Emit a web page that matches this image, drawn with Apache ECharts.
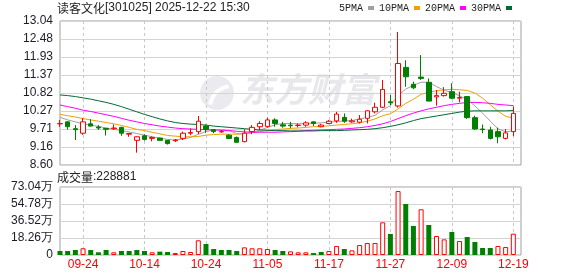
<!DOCTYPE html>
<html><head><meta charset="utf-8">
<script src="https://cdn.jsdelivr.net/npm/echarts@6/dist/echarts.min.js"></script>
<style>html,body{margin:0;padding:0;background:#fff}#c{width:578px;height:276px}</style>
</head><body><div id="c"></div>
<script>
const stockName = '读客文化';
const stockCode = '301025';
const stamp = '2025-12-22 15:30';
const dates = ['09-19','09-22','09-23','09-24','09-25','09-26','09-29','09-30','10-09','10-10','10-13','10-14','10-15','10-16','10-17','10-20','10-21','10-22','10-23','10-24','10-27','10-28','10-29','10-30','10-31','11-03','11-04','11-05','11-06','11-07','11-10','11-11','11-12','11-13','11-14','11-17','11-18','11-19','11-20','11-21','11-24','11-25','11-26','11-27','11-28','12-01','12-02','12-03','12-04','12-05','12-08','12-09','12-10','12-11','12-12','12-15','12-16','12-17','12-18','12-19','12-22'];
const dateLabels = ['09-24','10-14','10-24','11-05','11-17','11-27','12-09','12-19'];
const opens = [9.87,9.93,9.72,9.58,9.87,9.77,9.73,9.72,9.76,9.55,
  9.36,9.50,9.42,9.43,9.36,9.35,9.42,9.58,9.63,9.80,
  9.69,9.62,9.52,9.45,9.32,9.63,9.78,9.79,9.99,9.84,
  9.83,9.82,9.83,9.93,9.78,9.88,9.96,10.07,9.93,9.92,
  10.04,10.24,10.38,10.55,10.42,11.61,11.09,11.31,11.15,10.70,
  10.74,10.86,10.66,10.71,10.06,9.71,9.68,9.63,9.42,9.63];
const closes = [9.88,9.78,9.69,9.93,9.80,9.74,9.70,9.74,9.58,9.57,
  9.47,9.39,9.45,9.36,9.26,9.37,9.58,9.60,9.95,9.70,
  9.63,9.63,9.42,9.30,9.58,9.76,9.88,9.99,9.88,9.80,
  9.81,9.83,9.90,9.88,9.83,9.95,10.17,9.95,9.96,10.01,
  10.27,10.38,10.93,10.52,11.73,11.32,10.98,11.27,10.57,10.74,
  10.81,10.66,10.68,10.06,9.71,9.69,9.42,9.47,9.59,10.19];
const lows = [9.78,9.69,9.37,9.53,9.79,9.68,9.51,9.68,9.50,9.47,
  8.98,9.35,9.33,9.35,9.23,9.31,9.37,9.52,9.55,9.59,
  9.58,9.60,9.40,9.30,9.30,9.55,9.68,9.75,9.78,9.75,
  9.73,9.76,9.78,9.80,9.76,9.86,9.90,9.90,9.90,9.88,
  9.88,10.19,10.35,10.45,10.37,11.01,10.94,11.22,10.57,10.43,
  10.71,10.63,10.53,10.02,9.68,9.58,9.39,9.27,9.39,9.49];
const highs = [9.99,9.94,9.83,10.05,10.01,9.83,9.74,9.85,9.78,9.58,
  9.48,9.55,9.48,9.44,9.37,9.40,9.63,9.73,10.11,9.85,
  9.71,9.68,9.55,9.48,9.70,9.83,9.95,10.06,10.04,9.93,
  9.93,9.88,9.95,9.94,9.87,9.99,10.24,10.19,10.03,10.14,
  10.29,10.52,11.22,10.76,12.70,11.83,11.17,11.99,11.27,10.91,
  11.00,11.12,10.86,10.72,10.12,9.85,9.78,9.75,9.71,10.40];
const volumes = [43000,43000,54000,72000,54000,29000,54000,29000,43000,43000,
  54000,43000,29000,36000,32000,21000,43000,32000,158000,118000,
  64000,54000,54000,43000,82000,72000,72000,64000,54000,43000,
  39000,29000,29000,21000,32000,43000,97000,64000,50000,107000,
  129000,129000,351000,226000,687000,548000,312000,491000,322000,204000,
  168000,247000,150000,193000,140000,75000,75000,97000,86000,228881];
const volumeUp = [0,0,0,1,0,0,0,1,0,0,
  0,0,1,0,0,1,1,1,1,0,
  0,0,0,0,1,1,1,1,0,0,
  1,1,1,0,0,1,1,0,1,1,
  1,1,1,0,1,0,0,1,0,1,
  1,0,1,0,0,0,0,1,1,1];
const ma5 = [10.07,9.99,9.93,9.87,9.83,9.79,9.74,9.70,9.66,9.62,
  9.57,9.52,9.47,9.43,9.39,9.37,9.40,9.45,9.55,9.63,
  9.68,9.69,9.66,9.57,9.55,9.60,9.67,9.76,9.84,9.88,
  9.88,9.87,9.88,9.89,9.90,9.92,9.94,9.96,9.97,10.02,
  10.07,10.13,10.30,10.43,10.75,10.94,11.06,11.15,11.15,11.02,
  10.90,10.84,10.73,10.62,10.42,10.20,9.95,9.72,9.62,9.65];
const ma10 = [10.16,10.12,10.08,10.03,9.99,9.95,9.91,9.87,9.82,9.76,
  9.70,9.66,9.61,9.56,9.51,9.49,9.47,9.47,9.48,9.52,
  9.54,9.55,9.55,9.55,9.57,9.60,9.63,9.66,9.69,9.71,
  9.73,9.74,9.76,9.78,9.79,9.81,9.83,9.85,9.87,9.90,
  9.95,10.02,10.12,10.18,10.33,10.50,10.63,10.78,10.84,10.89,
  10.92,10.93,10.92,10.90,10.82,10.66,10.46,10.26,10.10,10.05];
const ma20 = [10.45,10.40,10.35,10.29,10.25,10.20,10.15,10.10,10.04,9.98,
  9.93,9.88,9.84,9.80,9.77,9.74,9.72,9.71,9.70,9.69,
  9.68,9.67,9.66,9.64,9.62,9.61,9.61,9.61,9.61,9.62,
  9.63,9.64,9.66,9.67,9.68,9.69,9.70,9.71,9.73,9.75,
  9.78,9.82,9.87,9.94,10.03,10.12,10.20,10.27,10.33,10.38,
  10.43,10.47,10.50,10.53,10.53,10.52,10.50,10.47,10.45,10.43];
const ma30 = [10.76,10.74,10.71,10.67,10.63,10.58,10.53,10.47,10.40,10.32,
  10.24,10.16,10.09,10.02,9.96,9.91,9.88,9.86,9.85,9.83,
  9.80,9.78,9.76,9.74,9.72,9.70,9.68,9.67,9.66,9.66,
  9.65,9.65,9.65,9.65,9.66,9.66,9.66,9.67,9.68,9.69,
  9.70,9.72,9.75,9.79,9.84,9.90,9.97,10.03,10.07,10.11,
  10.15,10.19,10.23,10.26,10.27,10.27,10.27,10.27,10.27,10.28];
const priceTickLabels = ['8.60','9.16','9.71','10.27','10.82','11.37','11.93','12.48','13.04'];
const volumeTickLabels = ['0','18.26万','36.52万','54.78万','73.04万'];
const maNames = ['5PMA','10PMA','20PMA','30PMA'];

const RED = '#ff0000', GREEN = '#008000';
const MA_COLORS = ['#a0a0a0', '#f0a000', '#ff00ff', '#006a35'];
const FONT = '"Liberation Sans", Arial, sans-serif';
const PRICE_MIN = 8.60, PRICE_STEP = 0.555;
const VOL_STEP = 182600;

const candleData = dates.map((d, i) => i < opens.length ? [opens[i], closes[i], lows[i], highs[i]] : '-');
const volData = dates.map((d, i) => i < volumes.length ? {
  value: volumes[i],
  itemStyle: volumeUp[i] ? { color: '#ffffff', borderColor: RED, borderWidth: 1 } : { color: GREEN, borderColor: GREEN, borderWidth: 0 }
} : '-');
const pad = arr => dates.map((d, i) => i < arr.length ? arr[i] : '-');
const showDate = (idx) => dateLabels.indexOf(dates[idx]) >= 0;

const chart = echarts.init(document.getElementById('c'), null, { renderer: 'canvas' });
const vSplit = { show: true, interval: (i) => showDate(i), lineStyle: { color: '#c8c8c8', type: [3, 3], width: 1 } };
const hSplit = { show: true, lineStyle: { color: '#d4d4d4', width: 1 } };
const richText = {
  c: { fontFamily: '"Noto Sans CJK SC"', fontSize: 12, fontWeight: 'normal', color: '#222' },
  a: { fontFamily: FONT, fontSize: 12, fontWeight: 'normal', color: '#222' }
};

chart.setOption({
  animation: false,
  backgroundColor: '#ffffff',
  title: [
    { left: 57, top: 2, padding: 0,
      text: '{c|' + stockName + '}{a|[' + stockCode + '] ' + stamp + '}',
      textStyle: { fontWeight: 'normal', rich: richText } },
    { left: 57, top: 171, padding: 0,
      text: '{c|成交量}{a|:' + volumes[volumes.length - 1] + '}',
      textStyle: { fontWeight: 'normal', rich: richText } }
  ],
  legend: {
    left: 339, top: 3, padding: 0, itemGap: 5, itemWidth: 6, itemHeight: 4, align: 'right', icon: 'rect',
    textStyle: { fontFamily: '"Liberation Mono", monospace', fontSize: 10, color: '#222' },
    data: maNames
  },
  graphic: [
    { type: 'circle', shape: { cx: 217, cy: 93, r: 17 }, style: { fill: '#ebebef' }, z: -10, silent: true },
    { type: 'arc', shape: { cx: 232, cy: 108, r: 22, startAngle: Math.PI * 1.05, endAngle: Math.PI * 1.45 },
      style: { stroke: '#ffffff', lineWidth: 4, fill: null }, z: -9, silent: true },
    { type: 'text', left: 240, top: 72, z: -10, silent: true,
      style: { text: '东方财富', font: 'italic bold 34px "Noto Sans CJK SC"', fill: '#e8e8ec' } }
  ],
  grid: [
    { left: 60, right: 57, top: 21, height: 144, show: true, borderColor: '#a0a0a0', borderWidth: 1, backgroundColor: 'transparent' },
    { left: 60, right: 57, top: 187, height: 68, show: true, borderColor: '#a0a0a0', borderWidth: 1, backgroundColor: 'transparent' }
  ],
  xAxis: [
    { type: 'category', gridIndex: 0, data: dates, boundaryGap: false,
      axisLine: { show: false }, axisTick: { show: false }, axisLabel: { show: false }, splitLine: vSplit },
    { type: 'category', gridIndex: 1, data: dates, boundaryGap: false,
      axisLine: { show: false }, axisTick: { show: false },
      axisLabel: { show: true, interval: (i) => showDate(i), color: RED, fontSize: 12, fontFamily: FONT, margin: 4 },
      splitLine: vSplit }
  ],
  yAxis: [
    { type: 'value', gridIndex: 0, min: PRICE_MIN, max: 13.04, interval: PRICE_STEP,
      axisLine: { show: false }, axisTick: { show: false }, splitLine: hSplit,
      axisLabel: { color: '#1c1c28', fontSize: 12, fontFamily: FONT, margin: 7,
        formatter: (v) => priceTickLabels[Math.round((v - PRICE_MIN) / PRICE_STEP)] || '' } },
    { type: 'value', gridIndex: 1, min: 0, max: 730400, interval: VOL_STEP,
      axisLine: { show: false }, axisTick: { show: false }, splitLine: hSplit,
      axisLabel: { color: '#1c1c28', fontSize: 12, fontFamily: FONT, margin: 7,
        formatter: (v) => volumeTickLabels[Math.round(v / VOL_STEP)] || '' } }
  ],
  series: [
    { name: maNames[0], type: 'line', data: pad(ma5), symbol: 'none', color: MA_COLORS[0], lineStyle: { width: 1, color: MA_COLORS[0] }, z: 2 },
    { name: maNames[1], type: 'line', data: pad(ma10), symbol: 'none', color: MA_COLORS[1], lineStyle: { width: 1, color: MA_COLORS[1] }, z: 2 },
    { name: maNames[2], type: 'line', data: pad(ma20), symbol: 'none', color: MA_COLORS[2], lineStyle: { width: 1, color: MA_COLORS[2] }, z: 2 },
    { name: maNames[3], type: 'line', data: pad(ma30), symbol: 'none', color: MA_COLORS[3], lineStyle: { width: 1, color: MA_COLORS[3] }, z: 2 },
    { name: 'K', type: 'candlestick', data: candleData, barWidth: 5, clip: false, z: 3,
      itemStyle: { color: '#ffffff', color0: GREEN, borderColor: RED, borderColor0: GREEN, borderWidth: 1 } },
    { name: 'VOL', type: 'bar', xAxisIndex: 1, yAxisIndex: 1, data: volData, barWidth: 5, z: 3 }
  ]
});
</script>
</body></html>
